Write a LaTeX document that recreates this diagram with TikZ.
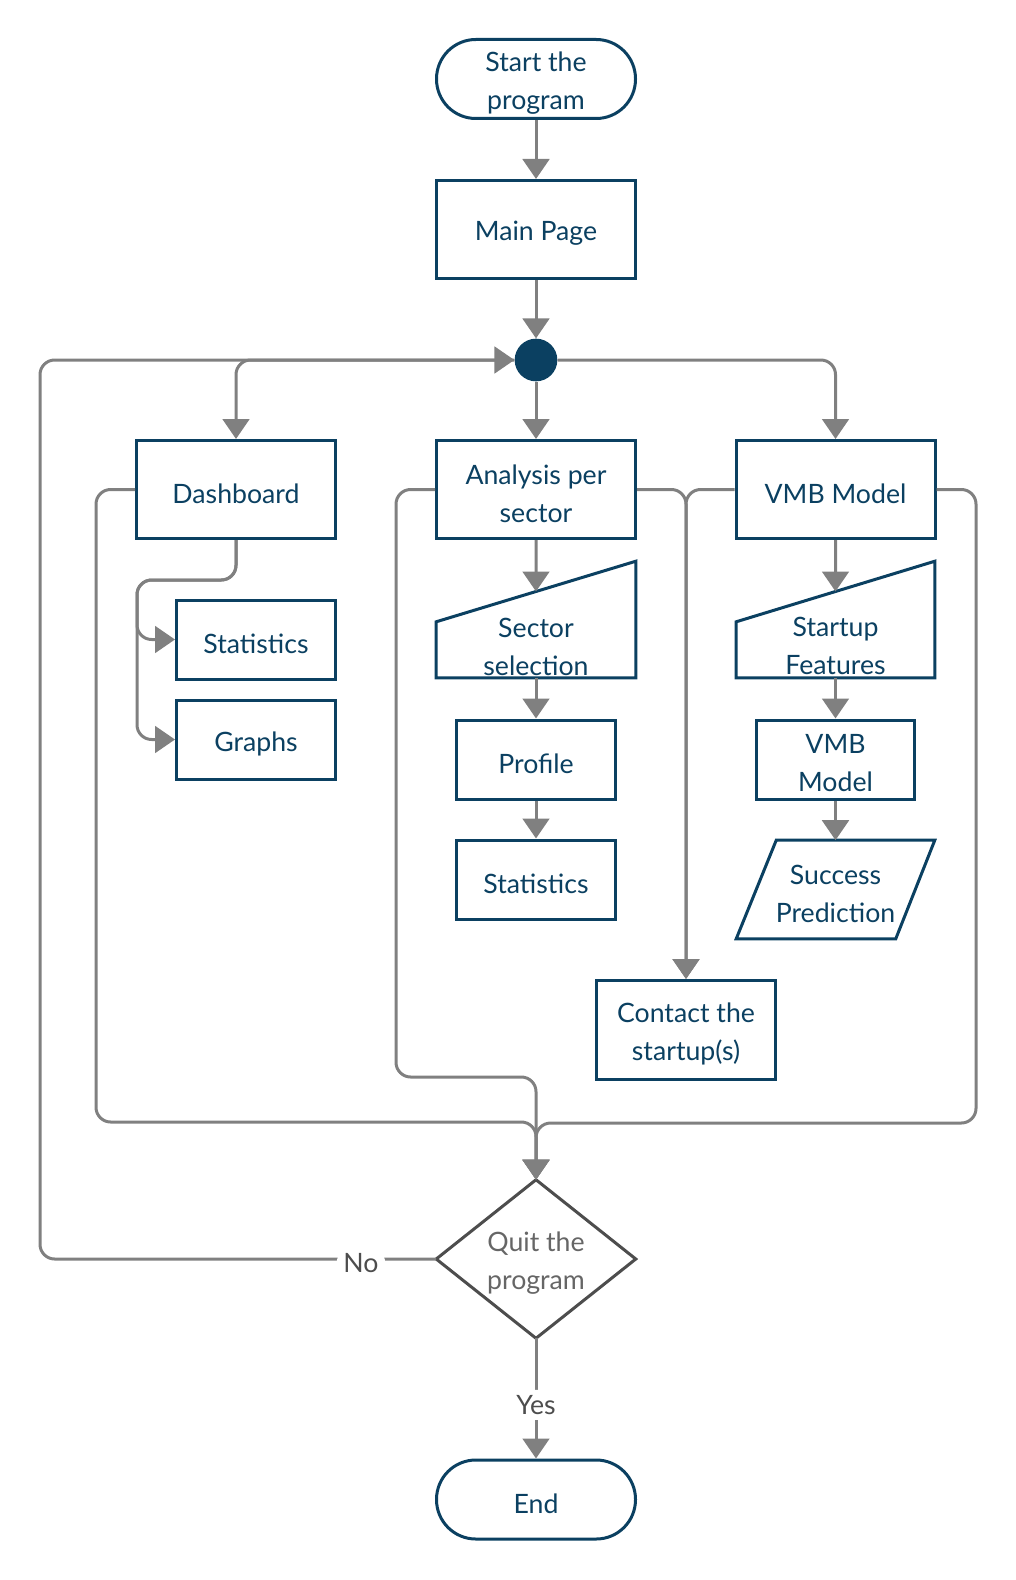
\documentclass[tikz,border=0pt]{standalone}
\usepackage{fontspec}
\setmainfont{Lato}
\usetikzlibrary{arrows.meta,calc}
\definecolor{nb}{HTML}{0B4061}
\definecolor{cg}{HTML}{808080}
\definecolor{dg}{HTML}{4D4D4D}
\definecolor{tg}{HTML}{666666}
\newcommand\boxlabel[3][nb]{\node[txt,text=#1] (#2-t) at ($(#2.center)+(0,4)$) {#3};}
\begin{document}
\begin{tikzpicture}[x=0.75pt,y=-0.75pt,
  txt/.style={text=nb,align=center,font=\fontsize{20}{28.5}\selectfont,inner sep=0pt},
  box/.style={draw=nb,line width=2.25pt,minimum width=149.25pt,minimum height=73.5pt,inner sep=0pt},
  term/.style={box,rounded corners=29.5pt,minimum height=59.25pt},
  smallbox/.style={box,minimum width=119.25pt,minimum height=59.25pt},
  frame/.style={minimum width=149.25pt,minimum height=87pt,inner sep=0pt},
  shapeline/.style={draw=nb,line width=2.25pt,line join=miter},
  conn/.style={draw=cg,line width=2.25pt,rounded corners=11pt,-{Triangle[length=15pt,width=20pt]}},
  lbl/.style={fill=white,text=dg,font=\fontsize{20}{28.5}\selectfont,inner xsep=5pt,inner ysep=4pt,yshift=-3pt}
]
\useasboundingbox (0,0) rectangle (1016,1580);

% nodes
\node[term] (start) at (536,79) {};
\boxlabel{start}{Start the\\program}
\node[box] (main) at (536,229.5) {};
\boxlabel{main}{Main Page}
\node[circle,fill=nb,minimum size=32pt,inner sep=0pt] (hub) at (536,360) {};
\node[box] (dash) at (236,489.5) {};
\boxlabel{dash}{Dashboard}
\node[box] (ana) at (536,489.5) {};
\boxlabel{ana}{Analysis per\\sector}
\node[box] (vmb) at (835.5,489.5) {};
\boxlabel{vmb}{VMB Model}
\node[smallbox] (stat1) at (256,639.5) {};
\boxlabel{stat1}{Statistics}
\node[smallbox] (graphs) at (256,739.5) {};
\boxlabel{graphs}{Graphs}

% sector selection (manual input)
\node[frame] (sector) at (536,619.5) {};
\coordinate (secTL) at ($(sector.south west)+(0,-56)$);
\coordinate (sectop) at ($(secTL)!0.5!(sector.north east)$);
\draw[shapeline] (secTL) -- (sector.north east) -- (sector.south east) -- (sector.south west) -- cycle;
\node[txt] (sector-t) at ($(sector.center)+(0,27)$) {Sector\\selection};

\node[smallbox] (profile) at (536,759.5) {};
\boxlabel{profile}{Profile}
\node[smallbox] (stat2) at (536,879.5) {};
\boxlabel{stat2}{Statistics}

% startup features (manual input)
\node[frame,minimum width=148.5pt] (feat) at (835.5,619.5) {};
\coordinate (featTL) at ($(feat.south west)+(0,-56)$);
\coordinate (feattop) at ($(featTL)!0.5!(feat.north east)$);
\draw[shapeline] (featTL) -- (feat.north east) -- (feat.south east) -- (feat.south west) -- cycle;
\node[txt] (feat-t) at ($(feat.center)+(0,26)$) {Startup\\Features};

\node[smallbox,minimum width=118.5pt] (vmb2) at (835.5,759.5) {};
\boxlabel{vmb2}{VMB\\Model}

% success prediction (parallelogram)
\node[frame,minimum width=148.5pt,minimum height=73.5pt] (succ) at (835.5,889.5) {};
\draw[shapeline] (succ.south west) -- ($(succ.north west)+(40,0)$) -- (succ.north east) -- ($(succ.south east)+(-39,0)$) -- cycle;
\boxlabel{succ}{Success\\Prediction}

\node[box,minimum width=134.25pt,minimum height=74.25pt] (contact) at (686,1030) {};
\boxlabel{contact}{Contact the\\startup(s)}

% decision
\node[frame,minimum height=118.5pt] (quit) at (536,1259) {};
\draw[draw=dg,line width=2.25pt,line join=miter] (quit.north) -- (quit.east) -- (quit.south) -- (quit.west) -- cycle;
\boxlabel[tg]{quit}{Quit the\\program}

\node[term] (end) at (536,1499.5) {};
\boxlabel{end}{End}

% connectors
\draw[conn] (start) -- (main);
\draw[conn] (main) -- (hub);
\draw[conn] (hub) -- (ana);
\draw[conn] (hub.west) -| (dash.north);
\draw[conn] (hub.east) -| (vmb.north);
\draw[conn] (dash.south) |- (137,580) |- (stat1.west);
\draw[conn] (dash.south) |- (137,580) |- (graphs.west);
\draw[conn] (ana.south) -- (sectop);
\draw[conn] (sector.south) -- (profile.north);
\draw[conn] (profile) -- (stat2);
\draw[conn] (vmb.south) -- (feattop);
\draw[conn] (feat.south) -- (vmb2.north);
\draw[conn] (vmb2.south) -- (succ.north);
\draw[conn] (ana.east) -| (contact.north);
\draw[conn] (vmb.west) -| (contact.north);
\draw[conn] (dash.west) -| (96,1122) -| (quit.north);
\draw[conn] (ana.west) -| (396,1077) -| (quit.north);
\draw[conn] (vmb.east) -| (976,1123) -| (quit.north);
\draw[conn] (quit.west) -- node[lbl,pos=0.19] (no) {No} (40,1259) |- (hub.west);
\draw[conn] (quit.south) -- node[lbl,pos=0.52] (yes) {Yes} (end.north);
\end{tikzpicture}
\end{document}
